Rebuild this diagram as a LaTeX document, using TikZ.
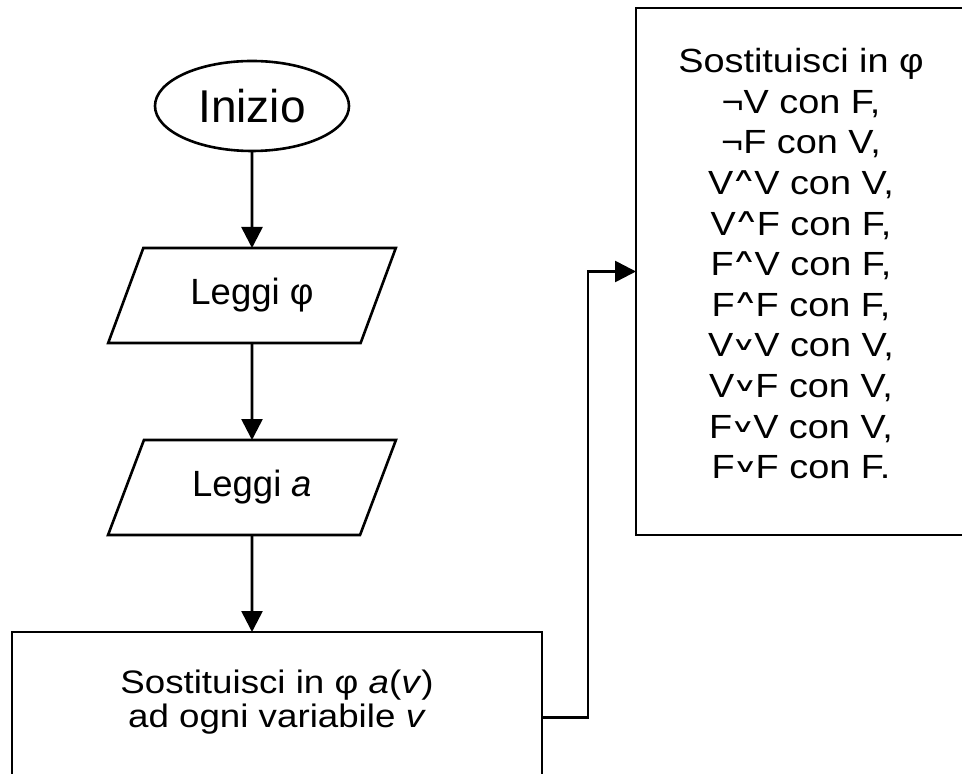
\documentclass[tikz,border=0pt]{standalone}
\usepackage{fontspec}
\setmainfont{Liberation Sans}
\newfontfamily\widefont[FakeStretch=1.13]{Liberation Sans}
\newfontfamily\symfont{DejaVu Sans}
\usepackage{tikz}
\usetikzlibrary{arrows.meta,shapes.geometric,positioning}

\newcommand{\opand}{\makebox[21pt]{\raisebox{13pt}{\scalebox{1}[0.55]{\symfont\fontsize{34}{34}\selectfont ∧}}}}
\newcommand{\opor}{\makebox[21pt]{\raisebox{6pt}{\scalebox{1}[0.55]{\symfont\fontsize{34}{34}\selectfont ∨}}}}

\tikzset{
  startend/.style={draw, ellipse, outer sep=0pt, inner sep=0pt,
    minimum width=194pt, minimum height=90pt, font=\fontsize{46}{50}\selectfont},
  readbox/.style={draw, trapezium, trapezium left angle=62.7, trapezium right angle=117.3,
    trapezium stretches=true, outer sep=0pt, minimum width=288pt, minimum height=95pt,
    font=\fontsize{36.5}{40}\selectfont},
  actbox/.style={draw, rectangle, outer sep=0pt, align=center},
}

\begin{document}
\begin{tikzpicture}[x=1pt, y=1pt, ->, >={Triangle[length=21pt,width=21pt]}, line width=2.6pt]
  \clip (0,0) rectangle (962,774);
  \node[startend]   (1) at (252,668)                 {Inizio};
  \node[readbox]    (2) [below = 97pt of 1]          {Leggi φ};
  \node[readbox]    (3) [below = 97pt of 2]          {Leggi \textit{a}};
  \node[actbox, minimum width=530pt, minimum height=145pt, text depth=12pt,
        font=\widefont\fontsize{32.5}{33.5}\selectfont]
                    (4) [below = 97pt of 3, xshift=25pt]
                    {Sostituisci in φ \textit{a}(\textit{v})\\ ad ogni variabile \textit{v}};
  \node[actbox, minimum width=330pt, minimum height=527pt, text depth=16pt,
        font=\widefont\fontsize{33.5}{40.6}\selectfont]
                    (5) at (801,502.5)
                    {Sostituisci in φ\\
                     ¬V con F,\\
                     ¬F con V,\\
                     V\opand V con V,\\
                     V\opand F con F,\\
                     F\opand V con F,\\
                     F\opand F con F,\\
                     V\opor V con V,\\
                     V\opor F con V,\\
                     F\opor V con V,\\
                     F\opor F con F.};

  \path
  (1) edge (2)
  (2) edge (3)
  (3) edge (3.south |- 4.north);
  \draw ([yshift=-13pt]4.east) -- ++(46,0) |- (5.west);
\end{tikzpicture}
\end{document}
